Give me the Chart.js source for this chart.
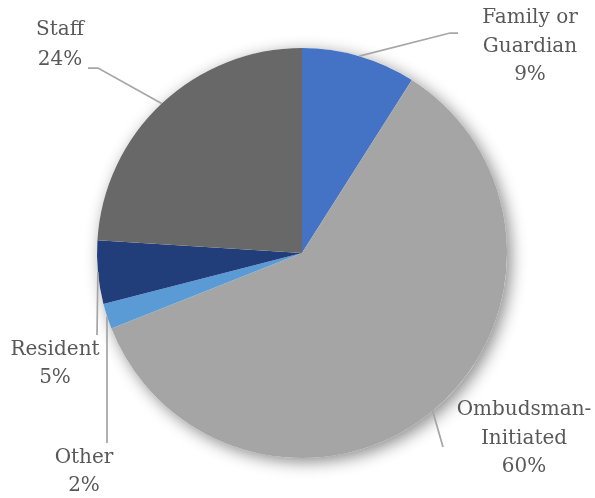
<!DOCTYPE html>
<html>
<head>
<meta charset="utf-8">
<script src="https://cdn.jsdelivr.net/npm/chart.js@4"></script>
<style>
  html, body { margin: 0; padding: 0; background: #fff; }
  #wrap { width: 595px; height: 498px; position: relative; }
</style>
</head>
<body>
<div id="wrap"><canvas id="pie"></canvas></div>
<script>
const categories = ['Family or Guardian', 'Ombudsman-Initiated', 'Other', 'Resident', 'Staff'];
const shares = [9, 60, 2, 5, 24];
const sliceColors = ['#4472C4', '#A5A5A5', '#5B9BD5', '#223E7A', '#686868'];

// label text lines, split the way they wrap beside the pie
const labelLines = [
  ['Family or', 'Guardian'],
  ['Ombudsman-', 'Initiated'],
  ['Other'],
  ['Resident'],
  ['Staff']
];

// where each label sits and how its leader line bends (canvas px)
const labelLayout = [
  { x: 530, y: 18, gap: 28.5, path: [[450, 33], [458, 33]] },
  { x: 524, y: 410, gap: 28.5, path: [[443, 447]] },
  { x: 84, y: 458, gap: 27.5, path: [[107, 443]] },
  { x: 55, y: 350, gap: 28, path: [[97, 335]] },
  { x: 60, y: 30, gap: 30, path: [[98, 68], [88, 68]] }
];

const pieShadow = {
  id: 'pieShadow',
  beforeDatasetsDraw(chart) {
    const arc = chart.getDatasetMeta(0).data[0];
    if (!arc) return;
    const ctx = chart.ctx;
    ctx.save();
    ctx.beginPath();
    ctx.arc(arc.x, arc.y, arc.outerRadius, 0, Math.PI * 2);
    ctx.fillStyle = '#fff';
    ctx.shadowColor = 'rgba(0,0,0,0.45)';
    ctx.shadowBlur = 16;
    ctx.shadowOffsetX = 4;
    ctx.shadowOffsetY = 4;
    ctx.fill();
    ctx.restore();
  }
};

const leaderLabels = {
  id: 'leaderLabels',
  afterDatasetsDraw(chart) {
    const ctx = chart.ctx;
    const arcs = chart.getDatasetMeta(0).data;
    ctx.save();
    arcs.forEach((arc, i) => {
      const lay = labelLayout[i];
      const mid = (arc.startAngle + arc.endAngle) / 2;
      const sx = arc.x + Math.cos(mid) * arc.outerRadius;
      const sy = arc.y + Math.sin(mid) * arc.outerRadius;

      ctx.beginPath();
      ctx.moveTo(sx, sy);
      lay.path.forEach(p => ctx.lineTo(p[0], p[1]));
      ctx.strokeStyle = '#A6A6A6';
      ctx.lineWidth = 1.75;
      ctx.stroke();

      const lines = labelLines[i].concat([shares[i] + '%']);
      ctx.fillStyle = '#595959';
      ctx.font = '20px "DejaVu Serif"';
      ctx.textAlign = 'center';
      ctx.textBaseline = 'middle';
      lines.forEach((t, k) => ctx.fillText(t, lay.x, lay.y + k * lay.gap));
    });
    ctx.restore();
  }
};

new Chart(document.getElementById('pie'), {
  type: 'pie',
  data: {
    labels: categories,
    datasets: [{
      data: shares,
      backgroundColor: sliceColors,
      borderWidth: 0
    }]
  },
  options: {
    responsive: true,
    maintainAspectRatio: false,
    animation: false,
    layout: { padding: { top: 48, bottom: 40, left: 97, right: 88 } },
    plugins: {
      legend: { display: false },
      tooltip: { enabled: false }
    }
  },
  plugins: [pieShadow, leaderLabels]
});
</script>
</body>
</html>
